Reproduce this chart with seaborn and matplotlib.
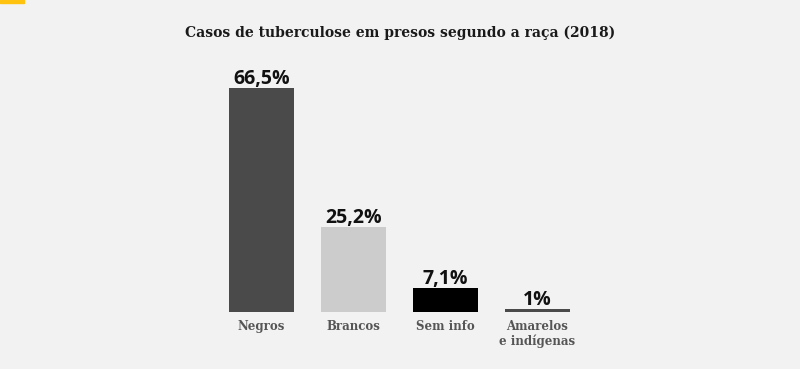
import matplotlib
matplotlib.use("Agg")
import matplotlib.pyplot as plt
import seaborn as sns
import pandas as pd

categories = ["Negros", "Brancos", "Sem info", "Amarelos\ne indígenas"]
values = [66.5, 25.2, 7.1, 1.0]
value_labels = ["66,5%", "25,2%", "7,1%", "1%"]
colors = ["#4a4a4a", "#cccccc", "#000000", "#4a4a4a"]
title = "Casos de tuberculose em presos segundo a raça (2018)"

sns.set_theme(style="white")
bg = "#f2f2f2"
fig = plt.figure(figsize=(8, 3.69), dpi=100, facecolor=bg)
W, H = 800, 369
ax = fig.add_axes([215.5 / W, 57 / H, 368 / W, 236 / H])
ax.set_facecolor(bg)

df = pd.DataFrame({"cat": categories, "val": values})
sns.barplot(data=df, x="cat", y="val", hue="cat", palette=colors, legend=False,
            width=0.707, saturation=1, linewidth=0, ax=ax)
ax.set_xlim(-0.5, 3.5)
ax.set_ylim(0, 70)
for s in ax.spines.values():
    s.set_visible(False)
ax.set_yticks([])
ax.set_xlabel("")
ax.set_ylabel("")
ax.tick_params(axis="x", length=0, pad=6)
for lab in ax.get_xticklabels():
    lab.set_fontfamily("DejaVu Serif")
    lab.set_fontweight("bold")
    lab.set_fontsize(8.5)
    lab.set_color("#555555")
    lab.set_verticalalignment("top")
    lab.set_linespacing(1.15)

for i, (v, t) in enumerate(zip(values, value_labels)):
    ax.annotate(t, (i, v), xytext=(0, -1), textcoords="offset points",
                ha="center", va="bottom", fontsize=14, fontweight="bold",
                family="Open Sans", color="#111111")

fig.text(0.5, 1 - 33 / H, title, ha="center", va="center", fontsize=10,
         fontweight="bold", family="DejaVu Serif", color="#1a1a1a")

# yellow corner mark
fig.patches.append(plt.Rectangle((0, 1 - 3 / H), 24 / W, 3 / H,
                                 transform=fig.transFigure, color="#ffc20e",
                                 zorder=10))

fig.savefig("out.png", dpi=100, facecolor=bg)
